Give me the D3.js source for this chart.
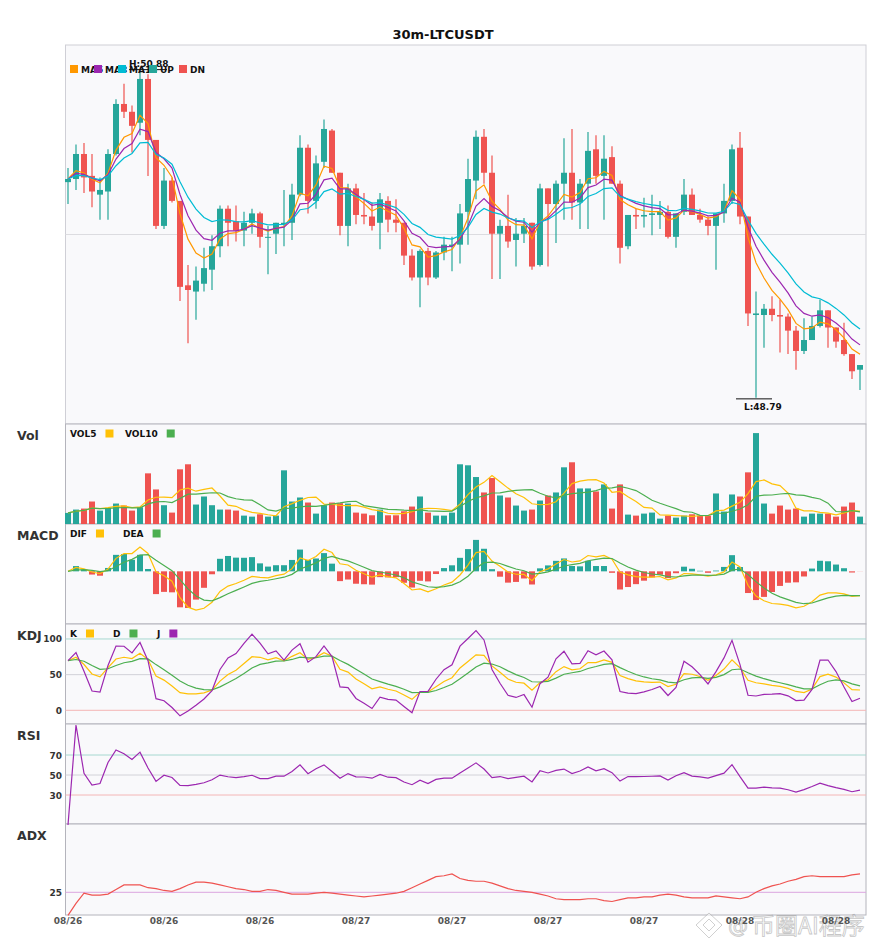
<!DOCTYPE html>
<html>
<head>
<meta charset="utf-8">
<script src="https://cdn.jsdelivr.net/npm/d3@7"></script>
<style>
  body { margin: 0; background: #fff; font-family: "DejaVu Sans", sans-serif; }
  text { font-family: "DejaVu Sans", sans-serif; }
</style>
</head>
<body>
<script>
// 30m candles
var opens = [50.17,50.19,50.35,50.21,50.09,50.11,50.35,50.67,50.62,50.55,
  50.83,50.44,49.89,50.18,50.05,49.51,49.47,49.52,49.61,49.76,
  50.00,49.92,49.86,49.91,49.97,49.82,49.84,49.90,49.91,50.09,
  50.39,50.05,50.30,50.50,50.23,49.89,50.13,49.96,49.95,49.91,
  50.05,49.93,49.91,49.70,49.56,49.73,49.56,49.72,49.76,49.77,
  49.98,50.18,50.46,50.23,49.84,49.89,49.80,49.84,49.91,49.64,
  50.13,50.03,50.16,50.23,50.04,50.16,50.38,50.21,50.33,50.16,
  49.76,49.96,49.95,49.96,49.96,49.98,49.82,49.98,50.09,49.96,
  49.93,49.89,49.97,50.05,50.39,49.95,49.32,49.32,49.36,49.32,
  49.31,49.22,49.09,49.16,49.25,49.35,49.24,49.16,49.07,48.97];
var highs = [50.26,50.41,50.42,50.35,50.20,50.38,50.70,50.80,50.66,50.88,
  50.86,50.44,50.26,50.20,50.05,49.64,49.63,49.75,49.83,50.02,
  50.02,50.02,49.98,50.00,49.98,49.89,49.91,50.12,50.16,50.47,
  50.41,50.34,50.57,50.51,50.23,50.16,50.16,50.10,50.04,50.10,
  50.08,50.06,49.91,49.74,49.74,49.75,49.73,49.82,49.82,50.03,
  50.32,50.50,50.51,50.34,49.93,50.09,49.94,49.94,49.91,50.16,
  50.13,50.18,50.45,50.51,50.19,50.49,50.47,50.47,50.40,50.18,
  49.96,50.00,50.07,50.09,50.05,50.02,49.97,50.19,50.13,50.00,
  49.95,49.97,50.16,50.41,50.49,49.95,49.47,49.39,49.44,49.42,
  49.33,49.25,49.30,49.31,49.42,49.35,49.24,49.27,49.07,49.00];
var lows = [50.03,50.12,50.10,50.01,49.93,49.93,50.34,50.58,50.36,50.47,
  50.21,49.87,49.87,50.04,49.41,49.14,49.29,49.47,49.48,49.69,
  49.76,49.79,49.76,49.84,49.75,49.58,49.71,49.76,49.80,50.08,
  49.97,50.00,50.26,50.23,49.83,49.76,49.90,49.90,49.86,49.74,
  49.85,49.85,49.64,49.54,49.37,49.51,49.55,49.67,49.60,49.65,
  49.77,50.06,50.16,49.55,49.55,49.75,49.63,49.78,49.61,49.63,
  49.63,49.78,49.93,49.93,49.87,49.87,50.16,49.93,50.16,49.65,
  49.74,49.87,49.88,49.83,49.87,49.81,49.75,49.96,49.96,49.91,
  49.83,49.61,49.91,50.03,49.90,49.25,48.79,49.11,49.28,49.08,
  49.07,48.97,49.07,49.16,49.24,49.11,49.11,49.06,48.91,48.84];
var closes = [50.19,50.35,50.20,50.11,50.12,50.35,50.67,50.62,50.53,50.83,
  50.44,49.89,50.18,50.05,49.50,49.48,49.54,49.62,49.76,50.00,
  49.91,49.86,49.91,49.97,49.82,49.82,49.91,49.91,50.09,50.39,
  50.05,50.29,50.51,50.23,49.89,50.13,49.96,49.95,49.89,50.06,
  49.93,49.91,49.70,49.56,49.73,49.56,49.72,49.77,49.77,49.97,
  50.19,50.46,50.23,49.84,49.89,49.79,49.84,49.89,49.63,50.13,
  50.03,50.16,50.23,50.04,50.16,50.37,50.21,50.32,50.16,49.75,
  49.96,49.95,49.96,49.97,49.98,49.82,49.97,50.09,49.96,49.93,
  49.89,49.97,50.05,50.38,49.95,49.33,49.33,49.36,49.32,49.31,
  49.22,49.09,49.16,49.25,49.35,49.24,49.15,49.07,48.96,49.00];
var volumes = [3300,4300,4600,6700,4000,4800,6100,5500,4000,5000,
  15100,10300,5600,3400,16300,17800,5800,8200,5600,4300,
  4300,4000,2500,2200,2900,2200,2500,16000,6700,7900,
  6400,3100,5600,6400,6200,6100,3400,3100,2600,4300,
  2600,2600,3800,5200,8200,3400,2500,2500,3400,17800,
  17500,14000,9400,13700,8500,7900,5500,4000,4300,7000,
  8500,9400,16900,18400,10600,10600,9700,11800,4600,11800,
  2800,2500,3100,3400,1600,2500,1900,2500,2900,2500,
  2500,9100,3700,8800,8200,15400,27100,6100,3100,5500,
  4300,4600,2200,3100,3100,3100,2200,5200,6400,2200];
var adxValues = [0,13,24,22,22,23,28,33,33,33,
  30,29,27,26,29,33,36,36,35,33,
  31,29,28,26,26,28,27,25,23,23,
  23,24,25,24,23,22,21,20,21,22,
  23,24,26,30,34,38,42,43,45,40,
  38,37,37,35,32,29,27,26,25,23,
  21,18,17,17,17,18,18,16,15,17,
  19,19,20,20,22,23,22,20,19,19,
  19,21,20,19,18,20,25,29,32,34,
  37,39,42,43,42,42,42,42,44,45];
var tickIdx = [0,12,24,36,48,60,72,84,96];
var tickLabels = ["08/26","08/26","08/26","08/27","08/27","08/27","08/27","08/28","08/28"];
var maPeriods = [5,8,13];
var maNames = ["MA5","MA8","MA13"];
var macdPeriods = [6,13,5];

var W = 885, H = 950;
var up = "#26a69a", down = "#ef5350";
var maColors = ["#ff9800","#9c27b0","#00bcd4"];
var yellow = "#ffc107", green = "#4caf50", purple = "#9c27b0";
var left = 65.5, right = 866;
var panels = {
  main: [45, 424], vol: [424, 524], macd: [524, 624],
  kdj: [624, 724], rsi: [724, 824], adx: [824, 915]
};

// ---- indicators derived from the candles ----
function ema(arr, p) {
  var k = 2 / (p + 1), prev = arr[0];
  return arr.map(function(v, i) { prev = i === 0 ? v : prev + k * (v - prev); return prev; });
}
function sma(arr, p) {
  return arr.map(function(v, i) { return d3.mean(arr.slice(Math.max(0, i - p + 1), i + 1)); });
}
var n = closes.length;
var maLines = maPeriods.map(function(p) { return ema(closes, p); });
var vol5 = sma(volumes, 5), vol10 = sma(volumes, 10);
var eFast = ema(closes, macdPeriods[0]), eSlow = ema(closes, macdPeriods[1]);
var dif = eFast.map(function(v, i) { return v - eSlow[i]; });
var dea = ema(dif, macdPeriods[2]);
var hist = dif.map(function(v, i) { return 2 * (v - dea[i]); });
var K = [], D = [], J = [];
for (var i = 0; i < n; i++) {
  var hh = d3.max(highs.slice(Math.max(0, i - 8), i + 1));
  var ll = d3.min(lows.slice(Math.max(0, i - 8), i + 1));
  var rsv = hh === ll ? 50 : (closes[i] - ll) / (hh - ll) * 100;
  var k = i === 0 ? rsv : K[i - 1] * 2 / 3 + rsv / 3;
  var d = i === 0 ? rsv : D[i - 1] * 2 / 3 + k / 3;
  K.push(k); D.push(d); J.push(3 * k - 2 * d);
}
// RSI 14, Wilder smoothing seeded by a running mean
var rsi = [0], ag = 0, al = 0;
for (var i = 1; i < n; i++) {
  var ch = closes[i] - closes[i - 1], c = Math.min(i, 14);
  ag += (Math.max(ch, 0) - ag) / c;
  al += (Math.max(-ch, 0) - al) / c;
  rsi.push(ag + al === 0 ? 50 : ag / (ag + al) * 100);
}

// ---- scales ----
var x = d3.scaleLinear().domain([-0.5, n - 0.5]).range([64, 864]);
var pLo = d3.min(lows), pHi = d3.max(highs), pr = pHi - pLo;
var yP = d3.scaleLinear().domain([pLo - 0.08 * pr, pHi + 0.08 * pr]).range([panels.main[1], panels.main[0]]);
var yV = d3.scaleLinear().domain([0, d3.max(volumes) * 1.1]).range([panels.vol[1], panels.vol[0]]);
var yM = d3.scaleLinear().domain([-0.306, 0.275]).range([panels.macd[1], panels.macd[0]]);
var yK = d3.scaleLinear().domain([-19.2, 121]).range([panels.kdj[1], panels.kdj[0]]);
var yR = d3.scaleLinear().domain([0, 100]).range([825, 725]);
var yA = d3.scaleLinear().domain([0, 100]).range([915.3, 823.3]);

var svg = d3.select("body").append("svg").attr("width", W).attr("height", H);

svg.append("text").attr("x", 443).attr("y", 39).attr("text-anchor", "middle")
  .style("font-size", "13px").style("font-weight", "bold").attr("fill", "#111").text("30m-LTCUSDT");

// panel frames
Object.keys(panels).forEach(function(key) {
  var p = panels[key];
  svg.append("rect").attr("x", left).attr("y", p[0]).attr("width", right - left).attr("height", p[1] - p[0])
    .attr("fill", "#f9f9fb").attr("stroke", key === "main" ? "#cfcfd6" : "#b4b4bc").attr("stroke-width", 1);
});

// watermark sits under the labels
var wm = svg.append("g").attr("opacity", 0.55);
wm.append("path").attr("d", "M709,913 L722,925 L709,938 L696,925 Z M709,919 L715,925 L709,931 L703,925 Z")
  .attr("fill", "#fff").attr("stroke", "#aaa").attr("stroke-width", 1);
wm.append("text").attr("x", 728).attr("y", 933).style("font-size", "20px").attr("fill", "#fff")
  .attr("stroke", "#999").attr("stroke-width", 0.8).text("@");
wm.append("text").attr("x", 752).attr("y", 934).style("font-size", "23px")
  .style("font-family", "'Noto Sans CJK SC', sans-serif").attr("fill", "#fff")
  .attr("stroke", "#999").attr("stroke-width", 0.8).text("币圈AI程序");

// mid gridline of price panel
svg.append("line").attr("x1", left).attr("x2", right)
  .attr("y1", (panels.main[0] + panels.main[1]) / 2).attr("y2", (panels.main[0] + panels.main[1]) / 2)
  .attr("stroke", "#dcdce0").attr("stroke-width", 1);

function hline(y, color) {
  svg.append("line").attr("x1", left).attr("x2", right).attr("y1", y).attr("y2", y)
    .attr("stroke", color).attr("stroke-width", 1);
}
function tick(y, label) {
  svg.append("text").attr("x", 62).attr("y", y + 3.5).attr("text-anchor", "end")
    .style("font-size", "9px").style("font-weight", "bold").attr("fill", "#333").text(label);
}
hline(yK(100), "#a6d8d0"); hline(yK(50), "#d2d2d8"); hline(yK(0), "#f4b6b6");
tick(yK(100), "100"); tick(yK(50), "50"); tick(yK(0), "0");
hline(yR(70), "#a6d8d0"); hline(yR(50), "#d2d2d8"); hline(yR(30), "#f4b6b6");
tick(yR(70), "70"); tick(yR(50), "50"); tick(yR(30), "30");
hline(yA(25), "#dba6e0"); tick(yA(25), "25");

// candles
var idx = d3.range(n);
var cg = svg.append("g");
cg.selectAll("line.wick").data(idx).enter().append("line")
  .attr("x1", function(i) { return x(i); }).attr("x2", function(i) { return x(i); })
  .attr("y1", function(i) { return yP(highs[i]); }).attr("y2", function(i) { return yP(lows[i]); })
  .attr("stroke", function(i) { return closes[i] >= opens[i] ? up : down; }).attr("stroke-width", 1.2);
cg.selectAll("rect.body").data(idx).enter().append("rect")
  .attr("x", function(i) { return x(i) - 3; }).attr("width", 6)
  .attr("y", function(i) { return yP(Math.max(opens[i], closes[i])); })
  .attr("height", function(i) { return Math.max(1, Math.abs(yP(opens[i]) - yP(closes[i]))); })
  .attr("fill", function(i) { return closes[i] >= opens[i] ? up : down; });

function drawLine(vals, yScale, color, w) {
  svg.append("path").datum(vals)
    .attr("d", d3.line().x(function(d, i) { return x(i); }).y(function(d) { return yScale(d); }))
    .attr("fill", "none").attr("stroke", color).attr("stroke-width", w || 1.2);
}
maLines.forEach(function(m, k) { drawLine(m, yP, maColors[k]); });

// high / low markers
var hiI = d3.maxIndex(highs), loI = d3.minIndex(lows);
svg.append("line").attr("x1", x(hiI) - 11).attr("x2", x(hiI) + 27)
  .attr("y1", yP(highs[hiI]) - 1.5).attr("y2", yP(highs[hiI]) - 1.5).attr("stroke", "#111");
svg.append("text").attr("x", x(hiI) - 11).attr("y", yP(highs[hiI]) - 4)
  .style("font-size", "9px").style("font-weight", "bold").attr("fill", "#111").text("H:" + highs[hiI].toFixed(2));
svg.append("line").attr("x1", x(loI) - 20).attr("x2", x(loI) + 16)
  .attr("y1", yP(lows[loI]) + 1).attr("y2", yP(lows[loI]) + 1).attr("stroke", "#111");
svg.append("text").attr("x", x(loI) - 12).attr("y", yP(lows[loI]) + 12)
  .style("font-size", "9px").style("font-weight", "bold").attr("fill", "#111").text("L:" + lows[loI].toFixed(2));

// main legend (square then text, later squares overlap earlier text)
var mainLeg = maNames.map(function(nm, k) { return { name: nm, color: maColors[k] }; })
  .concat([{ name: "UP", color: up }, { name: "DN", color: down }]);
var legX = [70, 94, 118, 149, 179];
mainLeg.forEach(function(it, k) {
  svg.append("rect").attr("x", legX[k]).attr("y", 65).attr("width", 8).attr("height", 8).attr("fill", it.color);
  svg.append("text").attr("x", legX[k] + 11).attr("y", 72.5)
    .style("font-size", "9px").style("font-weight", "bold").attr("fill", "#111").text(it.name);
});

// volume
svg.append("g").selectAll("rect").data(idx).enter().append("rect")
  .attr("x", function(i) { return x(i) - 3; }).attr("width", 6)
  .attr("y", function(i) { return yV(volumes[i]); })
  .attr("height", function(i) { return yV(0) - yV(volumes[i]); })
  .attr("fill", function(i) { return closes[i] >= opens[i] ? up : down; });
drawLine(vol5, yV, yellow);
drawLine(vol10, yV, green);

// MACD
svg.append("g").selectAll("rect").data(idx).enter().append("rect")
  .attr("x", function(i) { return x(i) - 3; }).attr("width", 6)
  .attr("y", function(i) { return Math.min(yM(0), yM(hist[i])); })
  .attr("height", function(i) { return Math.abs(yM(0) - yM(hist[i])); })
  .attr("fill", function(i) { return hist[i] >= 0 ? up : down; });
drawLine(dif, yM, yellow);
drawLine(dea, yM, green);

// KDJ, RSI, ADX
drawLine(K, yK, yellow);
drawLine(D, yK, green);
drawLine(J, yK, purple);
drawLine(rsi, yR, purple);
drawLine(adxValues, yA, down);

// panel titles and legends
function panelTitle(key, label) {
  svg.append("text").attr("x", 17).attr("y", panels[key][0] + 15.5)
    .style("font-size", "12.5px").style("font-weight", "bold").attr("fill", "#333").text(label);
}
panelTitle("vol", "Vol"); panelTitle("macd", "MACD"); panelTitle("kdj", "KDJ");
panelTitle("rsi", "RSI"); panelTitle("adx", "ADX");

function panelLegend(key, items, xs) {
  var cy = panels[key][0] + 9.5;
  items.forEach(function(it, k) {
    var t = svg.append("text").attr("x", xs[k]).attr("y", cy + 3.2)
      .style("font-size", "9px").style("font-weight", "bold").attr("fill", "#111").text(it[0]);
    var w = t.node().getComputedTextLength();
    svg.append("rect").attr("x", xs[k] + w + 9).attr("y", cy - 4).attr("width", 8).attr("height", 8).attr("fill", it[1]);
  });
}
panelLegend("vol", [["VOL5", yellow], ["VOL10", green]], [70, 125]);
panelLegend("macd", [["DIF", yellow], ["DEA", green]], [70, 123]);
panelLegend("kdj", [["K", yellow], ["D", green], ["J", purple]], [70, 113, 157]);

// x axis labels
tickIdx.forEach(function(ti, k) {
  svg.append("text").attr("x", x(ti)).attr("y", 924).attr("text-anchor", "middle")
    .style("font-size", "9px").style("font-weight", "bold").attr("fill", "#555").text(tickLabels[k]);
});
</script>
</body>
</html>
